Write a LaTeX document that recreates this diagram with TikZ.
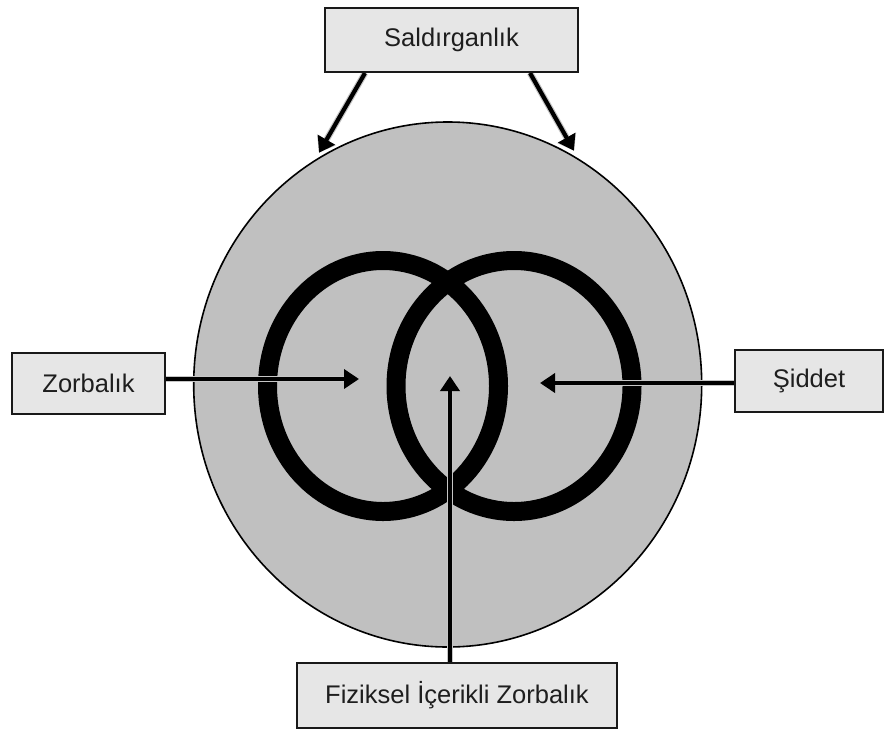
\documentclass[tikz,border=0pt]{standalone}
\usepackage{fontspec}
\setmainfont{Liberation Sans}
\usetikzlibrary{arrows.meta}
\definecolor{discfill}{HTML}{C0C0C0}
\definecolor{boxfill}{HTML}{E6E6E6}
\definecolor{shadowgray}{HTML}{C6C6C6}
\definecolor{txt}{HTML}{1E1E1E}
\tikzset{
  labelbox/.style={draw=black!90, line width=1.6pt, fill=boxfill, inner sep=0pt,
    font=\fontsize{25.5}{30}\selectfont, text=txt},
  ringline/.style={draw=black, line width=19pt},
  arrowline/.style={draw=black, line width=4.2pt,
    -{Triangle[length=15pt,width=19pt]}, shorten >=-2pt},
  shadowline/.style={draw=shadowgray, line width=6.5pt,
    -{Triangle[length=15pt,width=21pt]}, shorten >=-2pt}
}
\begin{document}
\begin{tikzpicture}[x=1pt,y=-1pt]
\useasboundingbox (0,0) rectangle (885,731);
% big disc
\filldraw[fill=discfill, draw=black, line width=1.6pt] (447.7,384.5) ellipse [x radius=254, y radius=262.5];
% rings
\draw[ringline] (383,386) ellipse [x radius=115.5, y radius=125.5];
\draw[ringline] (514,386) ellipse [x radius=118, y radius=125.5];
% boxes
\node[labelbox, minimum width=253pt, minimum height=64pt] (sald) at (451.5,40) {Saldırganlık};
\node[labelbox, minimum width=153pt, minimum height=61pt] (zorb) at (88.5,383.5) {Zorbalık};
\node[labelbox, minimum width=148pt, minimum height=62pt] (sidd) at (809,381) {Şiddet};
\node[labelbox, minimum width=320pt, minimum height=65pt] (fiz) at (457,695.5) {Fiziksel İçerikli Zorbalık};
% arrow endpoints
\coordinate (s1a) at (365,73);
\coordinate (s1b) at (320,151);
\coordinate (s2a) at (530,73);
\coordinate (s2b) at (573,149);
\coordinate (za) at (166,379);
\coordinate (zb) at (357,379);
\coordinate (da) at (734,383);
\coordinate (db) at (542,383);
\coordinate (fa) at (450,662);
\coordinate (fb) at (450,378);
% shadows
\begin{scope}[shift={(5,1)}]
  \draw[shadowline] (s1a) -- (s1b);
  \draw[shadowline] (s2a) -- (s2b);
\end{scope}
\begin{scope}[shift={(1,6)}]
  \draw[shadowline] (za) -- (zb);
\end{scope}
\begin{scope}[shift={(-1,-5.5)}]
  \draw[shadowline] (da) -- (db);
\end{scope}
\begin{scope}[shift={(6.5,1)}]
  \draw[shadowline] (fa) -- (fb);
\end{scope}
% arrows
\draw[arrowline] (s1a) -- (s1b);
\draw[arrowline] (s2a) -- (s2b);
\draw[arrowline] (za) -- (zb);
\draw[arrowline] (da) -- (db);
\draw[arrowline] (fa) -- (fb);
% redraw boxes on top of shadows
\node[labelbox, minimum width=253pt, minimum height=64pt] at (sald) {Saldırganlık};
\node[labelbox, minimum width=153pt, minimum height=61pt] at (zorb) {Zorbalık};
\node[labelbox, minimum width=148pt, minimum height=62pt] at (sidd) {Şiddet};
\node[labelbox, minimum width=320pt, minimum height=65pt] at (fiz) {Fiziksel İçerikli Zorbalık};
\end{tikzpicture}
\end{document}
